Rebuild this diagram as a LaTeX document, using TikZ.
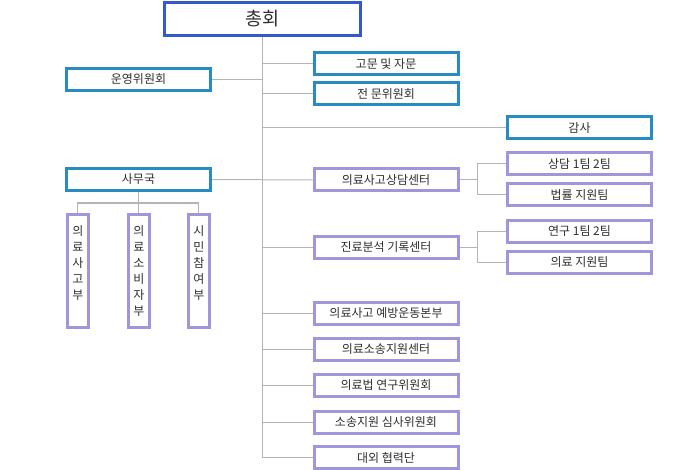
\documentclass[tikz,border=0pt]{standalone}
\usepackage{fontspec}
\setmainfont{Noto Sans CJK KR}
\usepackage{xcolor}
\usetikzlibrary{shapes,arrows,positioning,calc}

\definecolor{chongblue}{HTML}{3359CC}
\definecolor{tealblue}{HTML}{298BC4}
\definecolor{lavender}{HTML}{A096DE}
\definecolor{linegray}{HTML}{B4B4B4}
\definecolor{txtgray}{HTML}{2E2E2E}

\begin{document}
\begin{tikzpicture}[x=1pt, y=-1pt,
  bluebox/.style={rectangle, draw=tealblue, line width=3pt, minimum width=144pt, minimum height=22pt, inner sep=0pt, text=txtgray, font=\fontsize{12}{14}\selectfont},
  purplebox/.style={bluebox, draw=lavender},
  vertbox/.style={rectangle, draw=lavender, line width=3pt, minimum width=21.3pt, minimum height=113pt, inner sep=0pt, align=center, text=txtgray, font=\fontsize{12}{16}\selectfont},
  conn/.style={draw=linegray, line width=1pt}]
\useasboundingbox (0,0) rectangle (700,470);

\node[rectangle, draw=chongblue, line width=3pt, minimum width=196pt, minimum height=33pt, text=txtgray, font=\fontsize{18.5}{20}\selectfont] (chonghoe) at (262.8,19) {총회};

\node[bluebox] (unyeong) at (138.5,79.5) {운영위원회};
\node[bluebox] (samu) at (138.5,179.5) {사무국};
\node[bluebox] (gomun) at (386,64) {고문 및 자문};
\node[bluebox] (jeonmun) at (386,94) {전 문위원회};
\node[bluebox] (gamsa) at (579.5,128) {감사};

\node[purplebox] (sangdam) at (386,180) {의료사고상담센터};
\node[purplebox] (sangdamtim) at (579.5,164) {상담 1팀 2팀};
\node[purplebox] (beopryul) at (579.5,194.7) {법률 지원팀};
\node[purplebox] (jinryo) at (386,247) {진료분석 기록센터};
\node[purplebox] (yeongu) at (579.5,231) {연구 1팀 2팀};
\node[purplebox] (uiryoji) at (579.5,262) {의료 지원팀};
\node[purplebox] (yebang) at (386,313) {의료사고 예방운동본부};
\node[purplebox] (sosong) at (386,349) {의료소송지원센터};
\node[purplebox] (beopyeon) at (386,385) {의료법 연구위원회};
\node[purplebox] (simsa) at (386,422) {소송지원 심사위원회};
\node[purplebox] (daeoe) at (386,457.5) {대외 협력단};

\node[vertbox] (sagobu) at (77.8,271) {의\\료\\사\\고\\부\\\phantom{부}};
\node[vertbox] (sobija) at (138.8,271) {의\\료\\소\\비\\자\\부};
\node[vertbox] (simin) at (198.8,271) {시\\민\\참\\여\\부\\\phantom{부}};

\draw[conn] (chonghoe.south) |- (daeoe.west);
\draw[conn] (unyeong.east) -- (unyeong.east -| chonghoe.south);
\draw[conn] (gomun.west) -- (gomun.west -| chonghoe.south);
\draw[conn] (jeonmun.west) -- (jeonmun.west -| chonghoe.south);
\draw[conn] (gamsa.west) -- (gamsa.west -| chonghoe.south);
\draw[conn] (samu.east) -- (sangdam.west);
\draw[conn] (jinryo.west) -- (jinryo.west -| chonghoe.south);
\draw[conn] (yebang.west) -- (yebang.west -| chonghoe.south);
\draw[conn] (sosong.west) -- (sosong.west -| chonghoe.south);
\draw[conn] (beopyeon.west) -- (beopyeon.west -| chonghoe.south);
\draw[conn] (simsa.west) -- (simsa.west -| chonghoe.south);

\draw[conn] (sangdam.east) -- ++(17.7,0) coordinate (sangdamfork);
\draw[conn] (sangdamtim.west) -| (sangdamfork) |- (beopryul.west);
\draw[conn] (jinryo.east) -- ++(17.7,0) coordinate (jinryofork);
\draw[conn] (yeongu.west) -| (jinryofork) |- (uiryoji.west);

\draw[conn] (samu.south) -- ++(0,11) coordinate (samufork);
\draw[conn] (sagobu.north) |- (samufork) -| (simin.north);
\draw[conn] (sobija.north) -- (sobija.north |- samufork);
\end{tikzpicture}
\end{document}
